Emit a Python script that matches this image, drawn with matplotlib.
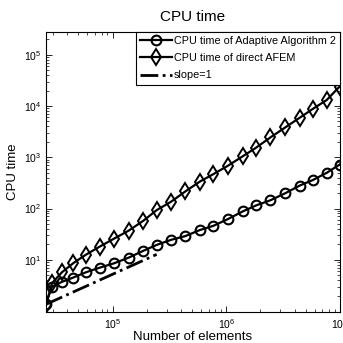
import matplotlib
matplotlib.use('Agg')
import matplotlib.pyplot as plt
from matplotlib.ticker import LogLocator, NullFormatter

plt.rcParams['font.family'] = ['Liberation Sans', 'DejaVu Sans']
plt.rcParams['mathtext.default'] = 'regular'

# number of elements
n_elements = [25900, 29300, 35800, 45100, 58300, 76800, 102500, 138400, 186800,
              244000, 327000, 437000, 585000, 771000, 1030000, 1400000, 1830000,
              2450000, 3320000, 4420000, 5780000, 7680000, 9930000]

# CPU time of Adaptive Algorithm 2
cpu_adaptive = [1.4, 3.0, 3.7, 4.5, 5.7, 7.0, 8.5, 11.0, 15.0,
                19.5, 24.5, 29.0, 38.0, 46.0, 62.0, 88.0, 115.0,
                145.0, 200.0, 280.0, 360.0, 500.0, 720.0]

# CPU time of direct AFEM
cpu_direct = [1.3, 3.5, 5.7, 8.6, 12.6, 18.0, 25.7, 37.0, 58.0,
              93.0, 136.0, 216.0, 335.0, 470.0, 680.0, 1050.0, 1540.0,
              2450.0, 3850.0, 5900.0, 8800.0, 13200.0, 24000.0]

# slope=1 reference line, drawn over the first points only
slope_n = [n_elements[0], n_elements[9]]
slope_y = [1.35, 1.35 * n_elements[9] / n_elements[0]]

fig = plt.figure(figsize=(3.43, 3.43), dpi=100)
ax = fig.add_axes([0.134, 0.09, 0.857, 0.817])

ax.loglog(n_elements, cpu_adaptive, '-o', color='black', lw=1.6,
          markersize=7, markerfacecolor='none', markeredgewidth=1.5,
          label='CPU time of Adaptive Algorithm 2')
ax.loglog(n_elements, cpu_direct, '-d', color='black', lw=1.6,
          markersize=8, markerfacecolor='none', markeredgewidth=1.4,
          label='CPU time of direct AFEM')
ax.loglog(slope_n, slope_y, '-.', color='black', lw=2.0, label='slope=1')

ax.set_xlim(n_elements[0], 1.0e7)
ax.set_ylim(0.95, 2.8e5)
ax.set_yticks([1e1, 1e2, 1e3, 1e4, 1e5])
ax.xaxis.set_minor_locator(LogLocator(base=10, subs=range(2, 10), numticks=20))
ax.yaxis.set_minor_locator(LogLocator(base=10, subs=range(2, 10), numticks=20))
ax.xaxis.set_minor_formatter(NullFormatter())
ax.yaxis.set_minor_formatter(NullFormatter())

ax.tick_params(which='both', direction='in', top=True, right=True, labelsize=7.5)
ax.tick_params(which='major', length=4, width=0.6)
ax.tick_params(which='minor', length=2, width=0.5)
for s in ax.spines.values():
    s.set_linewidth(0.8)

ax.set_title('CPU time', fontsize=11, pad=8)
ax.set_xlabel('Number of elements', fontsize=9.5, labelpad=0)
ax.set_ylabel('CPU time', fontsize=9.5, labelpad=3)

leg = ax.legend(loc='upper right', fontsize=7.8, frameon=True, fancybox=False,
                edgecolor='black', framealpha=1, borderaxespad=0,
                handlelength=2.9, handletextpad=0.2, labelspacing=0.65,
                borderpad=0.4)
leg.get_frame().set_linewidth(0.8)

fig.savefig('out.png', dpi=100)
